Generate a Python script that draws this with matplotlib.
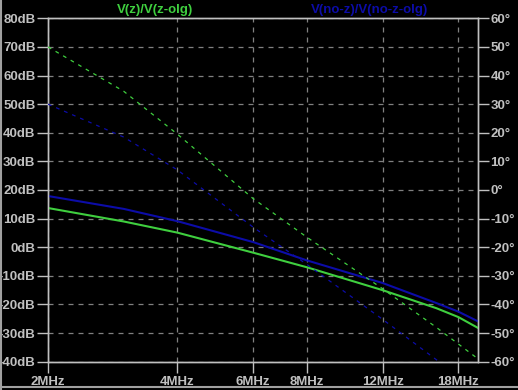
import matplotlib
matplotlib.use("Agg")
import matplotlib.pyplot as plt
from matplotlib.ticker import FixedLocator, NullLocator
from matplotlib.lines import Line2D

# Frequencies (MHz) for magnitude traces
freq_mag = [2, 3, 4, 6, 8, 12, 16, 18, 20]
# Magnitudes (dB)
mag_z = [13.7, 9.0, 5.1, -1.9, -7.0, -15.0, -21.3, -24.4, -28.2]
mag_noz = [17.9, 13.4, 9.1, 1.8, -4.6, -12.5, -19.5, -22.5, -25.9]

# Frequencies (MHz) for phase traces
freq_ph = [2, 3, 4, 6, 8, 12, 16, 20]
# Phases (degrees)
ph_z = [50, 34.5, 19.5, -3.0, -16.5, -34.5, -48.0, -59.0]
ph_noz = [30, 18.5, 7.0, -13.0, -26.0, -45.2, -59.3, -69.6]

xticks = [2, 4, 6, 8, 12, 18]
xlabels = ["2MHz", "4MHz", "6MHz", "8MHz", "12MHz", "18MHz"]
ydb = list(range(-40, 81, 10))
ydeg = list(range(-60, 61, 10))

GREEN = "#3fcf3f"
BLUE = "#0c0ca8"
GRAY = "#c0c0c0"
GRID = "#808080"

fig = plt.figure(figsize=(5.18, 3.90), dpi=100, facecolor="black")
ax = fig.add_axes([48/518, 1-361.7/390, 430/518, (361.7-18.3)/390])
ax.set_facecolor("black")
ax2 = ax.twinx()

ax.set_xscale("log")
ax.set_xlim(2, 20)
ax.set_ylim(-40, 80)
ax2.set_ylim(-60, 60)

font = dict(family="Liberation Sans", weight="bold", size=9.5)

ax.xaxis.set_major_locator(FixedLocator(xticks))
ax.xaxis.set_minor_locator(NullLocator())
ax.set_xticklabels(xlabels, color=GRAY, **font)
ax.set_yticks(ydb)
ax.set_yticklabels([f"{v}dB" for v in ydb], color=GRAY, **font)
ax2.set_yticks(ydeg)
ax2.set_yticklabels([f"{v}°" for v in ydeg], color=GRAY, **font)

for a in (ax, ax2):
    a.tick_params(colors=GRAY, length=8, width=1, pad=1)
    for s in a.spines.values():
        s.set_color(GRAY)
        s.set_linewidth(1)
ax.tick_params(axis="x", pad=2)

ax.grid(True, which="major", color=GRID, linestyle=(0, (4, 4)), linewidth=0.9)

ax.plot(freq_mag, mag_z, color=GREEN, linewidth=1.5, zorder=3)
ax.plot(freq_mag, mag_noz, color=BLUE, linewidth=1.5, zorder=3)
ax2.plot(freq_ph, ph_z, color=GREEN, linewidth=0.9, linestyle=(0, (3, 4)), zorder=3)
ax2.plot(freq_ph, ph_noz, color=BLUE, linewidth=0.9, linestyle=(0, (3, 4)), zorder=3)

fig.text(155/518, 1-10/390, "V(z)/V(z-olg)", color=GREEN, ha="center", va="center", **font)
fig.text(370/518, 1-10/390, "V(no-z)/V(no-z-olg)", color=BLUE, ha="center", va="center", **font)

# window border
fig.add_artist(Line2D([0.5/518, 0.5/518], [0, 1], color="#a0a0a0", linewidth=1.5, transform=fig.transFigure))
fig.add_artist(Line2D([0, 1], [3/390, 3/390], color="#a0a0a0", linewidth=1.5, transform=fig.transFigure))

fig.savefig("out.png", dpi=100, facecolor="black")
